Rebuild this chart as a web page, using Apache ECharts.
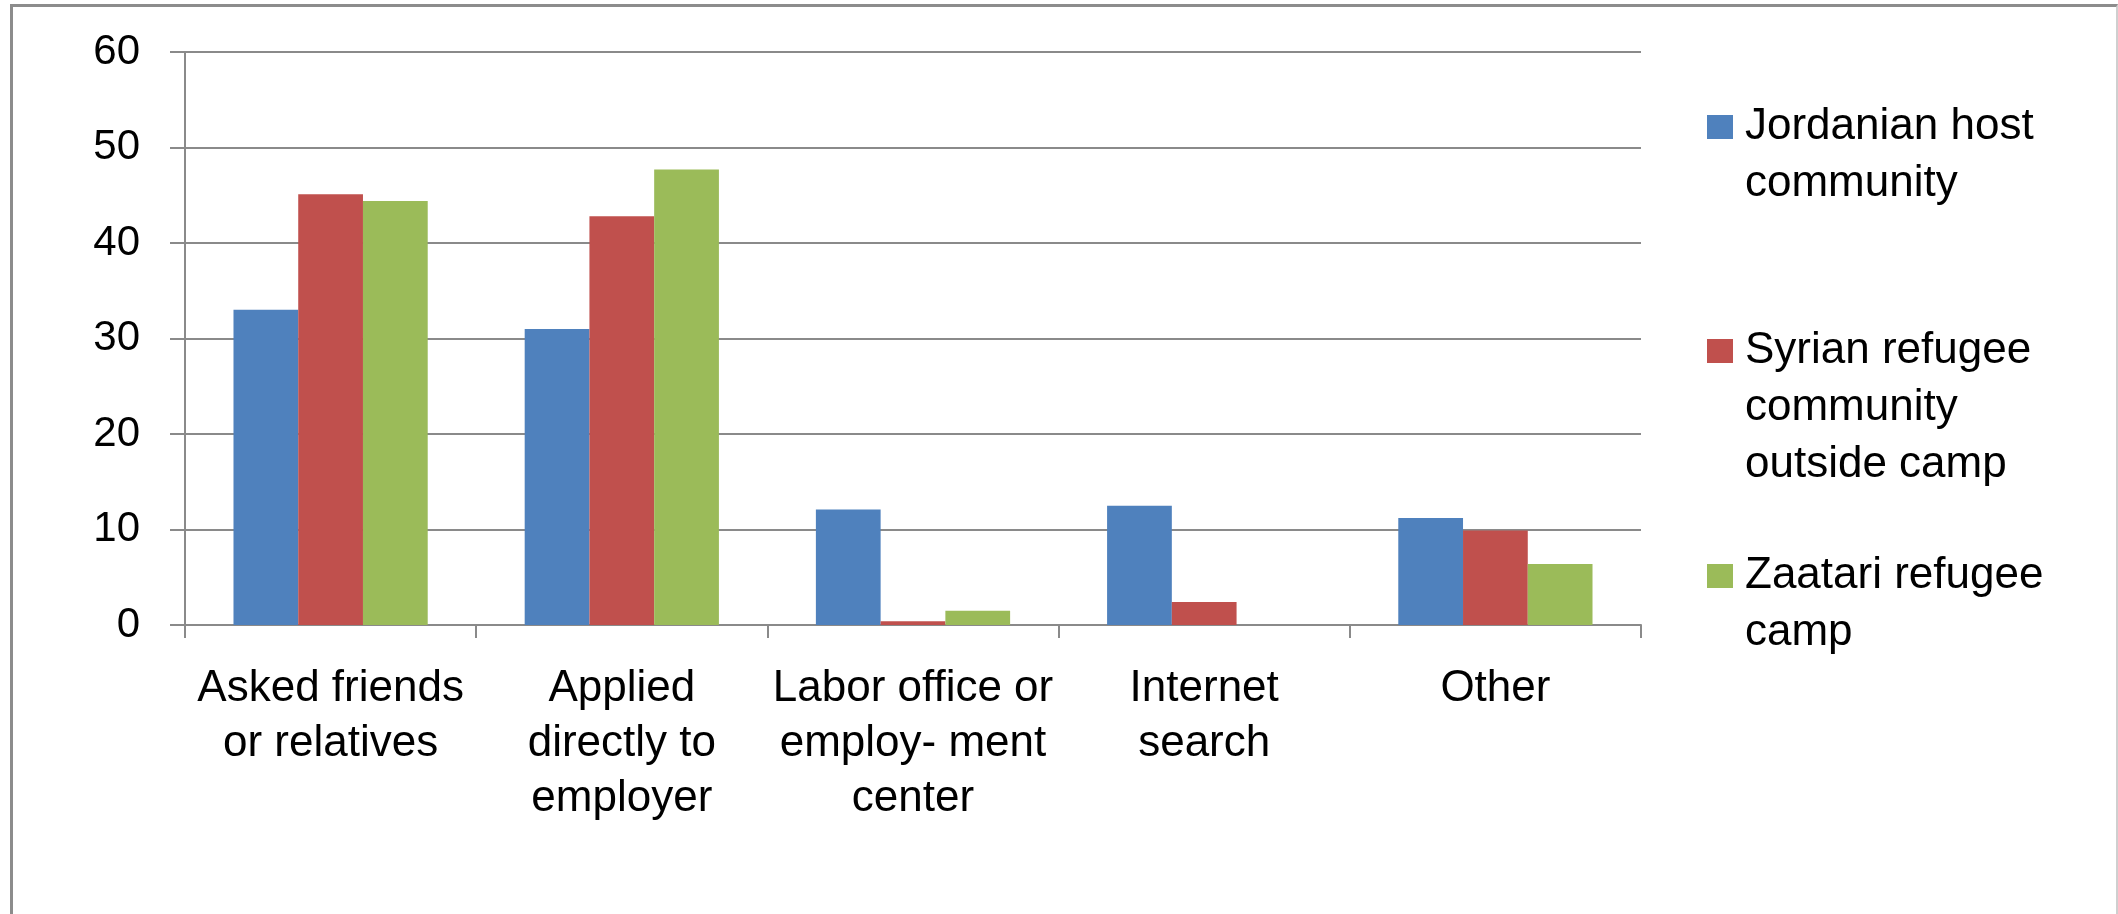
<!DOCTYPE html>
<html>
<head>
<meta charset="utf-8">
<title>Job search methods</title>
<script src="https://cdn.jsdelivr.net/npm/echarts@6/dist/echarts.min.js"></script>
<style>
    html, body { margin: 0; padding: 0; background: #fff; }
    #wrap { position: relative; width: 2118px; height: 914px; }
    #barChart { width: 2118px; height: 914px; }
    #frame {
        position: absolute; left: 10px; top: 4px; width: 2103px; height: 920px;
        border-left: 3px solid #8c8c8c; border-top: 3px solid #8c8c8c;
        border-right: 2px solid #cfcfcf; pointer-events: none;
    }
</style>
</head>
<body>
<div id="wrap">
    <div id="barChart"></div>
    <div id="frame"></div>
</div>
<script>
var categories = ['Asked friends\nor relatives', 'Applied\ndirectly to\nemployer', 'Labor office or\nemploy- ment\ncenter', 'Internet\nsearch', 'Other'];
var seriesNames = ['Jordanian host\ncommunity', 'Syrian refugee\ncommunity\noutside camp', 'Zaatari refugee\ncamp'];
var jordanianHost = [33.0, 31.0, 12.1, 12.5, 11.2];
var syrianOutside = [45.1, 42.8, 0.4, 2.4, 9.9];
var zaatariCamp = [44.4, 47.7, 1.5, 0, 6.4];
var colors = ['#4F81BD', '#C0504D', '#9BBB59'];
var yTicks = [0, 10, 20, 30, 40, 50, 60];

var barChart;
var fontName = '"Liberation Sans", Arial, sans-serif';
var axisLineH = 55;
var legendLineH = 57;

window.onload = function () {
    init();
};

// swatch drawn at the top of a tall box, so it lines up with the first text line
function swatchPath(boxHeight) {
    var top = legendLineH / 2 - 12;
    return 'path://M0,0L0,0M0,' + top + 'L26,' + top + 'L26,' + (top + 24) + 'L0,' + (top + 24) + 'Z' +
        'M0,' + boxHeight + 'L0,' + boxHeight;
}

function init() {
    barChart = echarts.init(document.getElementById('barChart'));
    var values = [jordanianHost, syrianOutside, zaatariCamp];
    var firstLineY = [127, 351, 576];
    var series = [];
    var legends = [];
    for (var i = 0; i < seriesNames.length; i++) {
        series.push({
            name: seriesNames[i],
            type: 'bar',
            data: values[i],
            barGap: '0%',
            barCategoryGap: '33.3%',
            itemStyle: { color: colors[i] }
        });
        var boxH = seriesNames[i].split('\n').length * legendLineH;
        legends.push({
            data: [{ name: seriesNames[i], icon: swatchPath(boxH) }],
            left: 1707,
            top: firstLineY[i] - legendLineH / 2,
            padding: 0,
            itemWidth: 26,
            itemHeight: boxH,
            selectedMode: false,
            textStyle: {
                fontFamily: fontName,
                fontSize: 44,
                lineHeight: legendLineH,
                color: '#000',
                padding: [0, 0, 0, 7]
            }
        });
    }

    var option = {
        animation: false,
        color: colors,
        legend: legends,
        grid: {
            left: 185,
            right: 477,
            top: 52,
            bottom: 289,
            containLabel: false
        },
        xAxis: {
            type: 'category',
            data: categories,
            axisLine: { lineStyle: { color: '#8a8a8a', width: 2 } },
            axisTick: { show: true, length: 13, lineStyle: { color: '#8a8a8a', width: 2 } },
            axisLabel: {
                interval: 0,
                margin: 36,
                fontFamily: fontName,
                fontSize: 44,
                lineHeight: axisLineH,
                color: '#000'
            },
            splitLine: { show: false }
        },
        yAxis: {
            type: 'value',
            min: yTicks[0],
            max: yTicks[yTicks.length - 1],
            interval: 10,
            axisLine: { show: true, lineStyle: { color: '#8a8a8a', width: 2 } },
            axisTick: { show: true, length: 15, lineStyle: { color: '#8a8a8a', width: 2 } },
            axisLabel: {
                margin: 45,
                fontFamily: fontName,
                fontSize: 42,
                color: '#000'
            },
            splitLine: { show: true, lineStyle: { color: '#8a8a8a', width: 2 } }
        },
        series: series
    };
    barChart.setOption(option);
}
</script>
</body>
</html>
